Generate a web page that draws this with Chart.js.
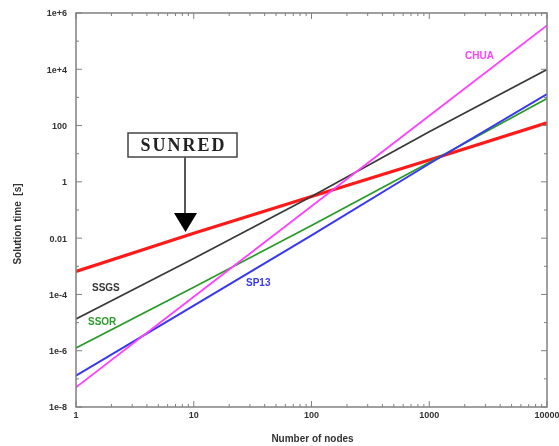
<!DOCTYPE html>
<html lang="en">
<head>
    <meta charset="UTF-8">
    <title>Solution time vs number of nodes</title>
    <script src="https://cdn.jsdelivr.net/npm/chart.js"></script>
    <style>
        html, body { margin: 0; padding: 0; background: #fff; }
        #wrap { width: 559px; height: 446px; position: relative; }
    </style>
</head>
<body>
    <div id="wrap"><canvas id="chart" width="559" height="446"></canvas></div>

    <script>
        // Datos (eje log-log)
        const nodes = [1, 10, 100, 1000, 10000];
        const sunred = [6.6e-4, 0.015, 0.30, 6.0, 126];
        const ssgs = [1.35e-5, 1.9e-3, 0.30, 60, 9800];
        const ssor = [1.26e-6, 1.8e-4, 0.028, 4.9, 910];
        const sp13 = [1.3e-7, 4.0e-5, 0.0126, 4.4, 1320];
        const chua = [5e-8, 8.3e-5, 0.135, 224, 3.6e5];

        const xTickValues = [1, 10, 100, 1000, 10000];
        const xTickLabels = ['1', '10', '100', '1000', '10000'];
        const yTickValues = [1e6, 1e4, 100, 1, 0.01, 1e-4, 1e-6, 1e-8];
        const yTickLabels = ['1e+6', '1e+4', '100', '1', '0.01', '1e-4', '1e-6', '1e-8'];
        const yMinorValues = [1e5, 1e3, 10, 0.1, 1e-3, 1e-5, 1e-7];

        function puntos(serie) {
            return nodes.map((x, i) => ({ x: x, y: serie[i] }));
        }

        function serie(label, data, color, width) {
            return {
                label: label,
                data: puntos(data),
                borderColor: color,
                backgroundColor: color,
                borderWidth: width,
                pointRadius: 0,
                showLine: true,
                tension: 0
            };
        }

        // Marco, ticks hacia dentro, etiquetas y anotaciones
        const decoracion = {
            id: 'decoracion',
            afterDraw(chart) {
                const ctx = chart.ctx;
                const a = chart.chartArea;
                const sx = chart.scales.x;
                const sy = chart.scales.y;
                ctx.save();

                ctx.strokeStyle = '#808080';
                ctx.lineWidth = 1.5;
                ctx.strokeRect(a.left, a.top, a.right - a.left, a.bottom - a.top);

                ctx.lineWidth = 1;
                // ticks eje y (izquierda y derecha)
                yTickValues.forEach(v => {
                    const p = sy.getPixelForValue(v);
                    ctx.beginPath();
                    ctx.moveTo(a.left, p); ctx.lineTo(a.left + 6, p);
                    ctx.moveTo(a.right, p); ctx.lineTo(a.right - 6, p);
                    ctx.stroke();
                });
                yMinorValues.forEach(v => {
                    const p = sy.getPixelForValue(v);
                    ctx.beginPath();
                    ctx.moveTo(a.left, p); ctx.lineTo(a.left + 3, p);
                    ctx.moveTo(a.right, p); ctx.lineTo(a.right - 3, p);
                    ctx.stroke();
                });
                // ticks eje x (abajo y arriba)
                xTickValues.forEach((v, i) => {
                    const p = sx.getPixelForValue(v);
                    ctx.beginPath();
                    ctx.moveTo(p, a.bottom); ctx.lineTo(p, a.bottom - 6);
                    ctx.moveTo(p, a.top); ctx.lineTo(p, a.top + 6);
                    ctx.stroke();
                    if (i < xTickValues.length - 1) {
                        for (let m = 2; m <= 9; m++) {
                            const q = sx.getPixelForValue(v * m);
                            ctx.beginPath();
                            ctx.moveTo(q, a.bottom); ctx.lineTo(q, a.bottom - 3);
                            ctx.moveTo(q, a.top); ctx.lineTo(q, a.top + 3);
                            ctx.stroke();
                        }
                    }
                });

                // etiquetas de ticks
                ctx.fillStyle = '#333';
                ctx.font = 'bold 9px "Liberation Sans", Arial, sans-serif';
                ctx.textAlign = 'right';
                ctx.textBaseline = 'middle';
                yTickValues.forEach((v, i) => {
                    ctx.fillText(yTickLabels[i], a.left - 9, sy.getPixelForValue(v) + 1);
                });
                ctx.textAlign = 'center';
                ctx.textBaseline = 'top';
                xTickValues.forEach((v, i) => {
                    ctx.fillText(xTickLabels[i], sx.getPixelForValue(v), a.bottom + 4);
                });

                // titulos de ejes
                ctx.font = 'bold 10px "Liberation Sans", Arial, sans-serif';
                ctx.fillText('Number of nodes', (a.left + a.right) / 2 + 1, a.bottom + 27);
                ctx.save();
                ctx.translate(18, (a.top + a.bottom) / 2 + 14);
                ctx.rotate(-Math.PI / 2);
                ctx.font = 'bold 10px "Liberation Sans", Arial, sans-serif';
                ctx.textBaseline = 'middle';
                ctx.fillText('Solution time  [s]', 0, 0);
                ctx.restore();

                // nombres de las series
                ctx.font = 'bold 10px "Liberation Sans", Arial, sans-serif';
                ctx.textAlign = 'left';
                ctx.textBaseline = 'middle';
                ctx.fillStyle = '#333';
                ctx.fillText('SSGS', 92, 288);
                ctx.fillStyle = '#2a9a2a';
                ctx.fillText('SSOR', 88, 322);
                ctx.fillStyle = '#3838f0';
                ctx.fillText('SP13', 246, 283);
                ctx.fillStyle = '#ff40ff';
                ctx.fillText('CHUA', 465, 56);

                // caja SUNRED con flecha
                ctx.fillStyle = '#fff';
                ctx.fillRect(128, 133, 109, 24);
                ctx.strokeStyle = '#444';
                ctx.lineWidth = 1.5;
                ctx.strokeRect(128, 133, 109, 24);
                ctx.fillStyle = '#222';
                ctx.font = 'bold 18px "Liberation Serif", "Times New Roman", serif';
                ctx.letterSpacing = '2px';
                ctx.textAlign = 'center';
                ctx.fillText('SUNRED', 183.5, 146);
                ctx.letterSpacing = '0px';
                ctx.strokeStyle = '#555';
                ctx.lineWidth = 2;
                ctx.beginPath();
                ctx.moveTo(185, 157); ctx.lineTo(185, 214);
                ctx.stroke();
                ctx.fillStyle = '#000';
                ctx.beginPath();
                ctx.moveTo(174, 213); ctx.lineTo(197, 213); ctx.lineTo(185.5, 232);
                ctx.closePath();
                ctx.fill();

                ctx.restore();
            }
        };

        new Chart(document.getElementById('chart'), {
            type: 'scatter',
            data: {
                datasets: [
                    serie('CHUA', chua, '#ff40ff', 1.8),
                    serie('SP13', sp13, '#3838f0', 2),
                    serie('SSOR', ssor, '#2a9a2a', 1.8),
                    serie('SSGS', ssgs, '#3a3a3a', 1.8),
                    serie('SUNRED', sunred, '#ff1a1a', 3.2)
                ]
            },
            options: {
                responsive: false,
                animation: false,
                layout: { padding: { left: 76, right: 12, top: 13, bottom: 39 } },
                plugins: {
                    legend: { display: false },
                    tooltip: { enabled: false }
                },
                scales: {
                    x: { type: 'logarithmic', min: 1, max: 10000, display: false },
                    y: { type: 'logarithmic', min: 1e-8, max: 1e6, display: false }
                }
            },
            plugins: [decoracion]
        });
    </script>
</body>
</html>
